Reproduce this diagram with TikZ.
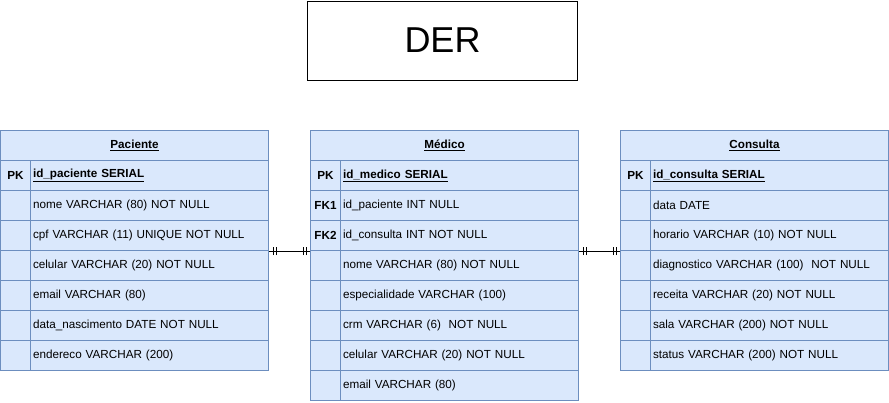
\documentclass[tikz,border=0pt]{standalone}
\usepackage{fontspec}
\setmainfont{Liberation Sans}
\usetikzlibrary{decorations.markings}

\definecolor{tabfill}{RGB}{218,232,252}
\definecolor{tabline}{RGB}{108,142,191}

\tikzset{
  cellbox/.style={draw=tabline, fill=tabfill, line width=1pt, inner sep=0pt, minimum height=30pt, anchor=north west, font=\fontsize{11.7}{14}\selectfont},
  headcell/.style={cellbox, minimum width=268pt, font=\fontsize{11.7}{14}\selectfont\bfseries},
  keycell/.style={cellbox, minimum width=30pt, font=\fontsize{11.7}{14}\selectfont\bfseries},
  fieldcell/.style={cellbox, minimum width=238pt, text width=233pt, inner xsep=2.5pt, align=left},
  mandone/.style={draw=black, line width=1pt, postaction={decorate}, decoration={markings,
    mark=at position 4pt with {\draw[line width=1pt] (0pt,-4pt) -- (0pt,4pt);},
    mark=at position 7pt with {\draw[line width=1pt] (0pt,-4pt) -- (0pt,4pt);},
    mark=at position -4pt with {\draw[line width=1pt] (0pt,-4pt) -- (0pt,4pt);},
    mark=at position -7pt with {\draw[line width=1pt] (0pt,-4pt) -- (0pt,4pt);}}}
}

\begin{document}
\begin{tikzpicture}[x=1pt,y=1pt,yscale=-1,xscale=1]
\useasboundingbox (0,0) rectangle (889,402);

%Title box
\node [draw=black, fill=white, line width=1pt, minimum width=270pt, minimum height=79pt, inner sep=0pt, font=\fontsize{36}{40}\selectfont] (der) at (442.5,40.5) {DER};

%Table: Paciente
\node [headcell] (pac) at (0,130) {\underline{Paciente}};
\foreach \k/\f [count=\i] in {PK/{\textbf{\underline{id\_paciente SERIAL}}},
    {}/nome VARCHAR (80) NOT NULL,
    {}/cpf VARCHAR (11) UNIQUE NOT NULL,
    {}/celular VARCHAR (20) NOT NULL,
    {}/email VARCHAR (80),
    {}/data\_nascimento DATE NOT NULL,
    {}/endereco VARCHAR (200)}{
  \node [keycell] (pac-k\i) at (0,130+30*\i) {\k};
  \node [fieldcell] (pac-f\i) at (30,130+30*\i) {\f};
}

%Table: Medico
\node [headcell] (med) at (310,130) {\underline{Médico}};
\foreach \k/\f [count=\i] in {PK/{\textbf{\underline{id\_medico SERIAL}}},
    FK1/id\_paciente INT NULL,
    FK2/id\_consulta INT NOT NULL,
    {}/nome VARCHAR (80) NOT NULL,
    {}/especialidade VARCHAR (100),
    {}/crm VARCHAR (6)~ NOT NULL,
    {}/celular VARCHAR (20) NOT NULL,
    {}/email VARCHAR (80)}{
  \node [keycell] (med-k\i) at (310,130+30*\i) {\k};
  \node [fieldcell] (med-f\i) at (340,130+30*\i) {\f};
}

%Table: Consulta
\node [headcell] (con) at (620,130) {\underline{Consulta}};
\foreach \k/\f [count=\i] in {PK/{\textbf{\underline{id\_consulta SERIAL}}},
    {}/data DATE,
    {}/horario VARCHAR (10) NOT NULL,
    {}/diagnostico VARCHAR (100)~ NOT NULL,
    {}/receita VARCHAR (20) NOT NULL,
    {}/sala VARCHAR (200) NOT NULL,
    {}/status VARCHAR (200) NOT NULL}{
  \node [keycell] (con-k\i) at (620,130+30*\i) {\k};
  \node [fieldcell] (con-f\i) at (650,130+30*\i) {\f};
}

%Relations
\draw [mandone] (pac-f3.south east) -- (med-k3.south west);
\draw [mandone] (med-f3.south east) -- (con-k3.south west);

\end{tikzpicture}
\end{document}
